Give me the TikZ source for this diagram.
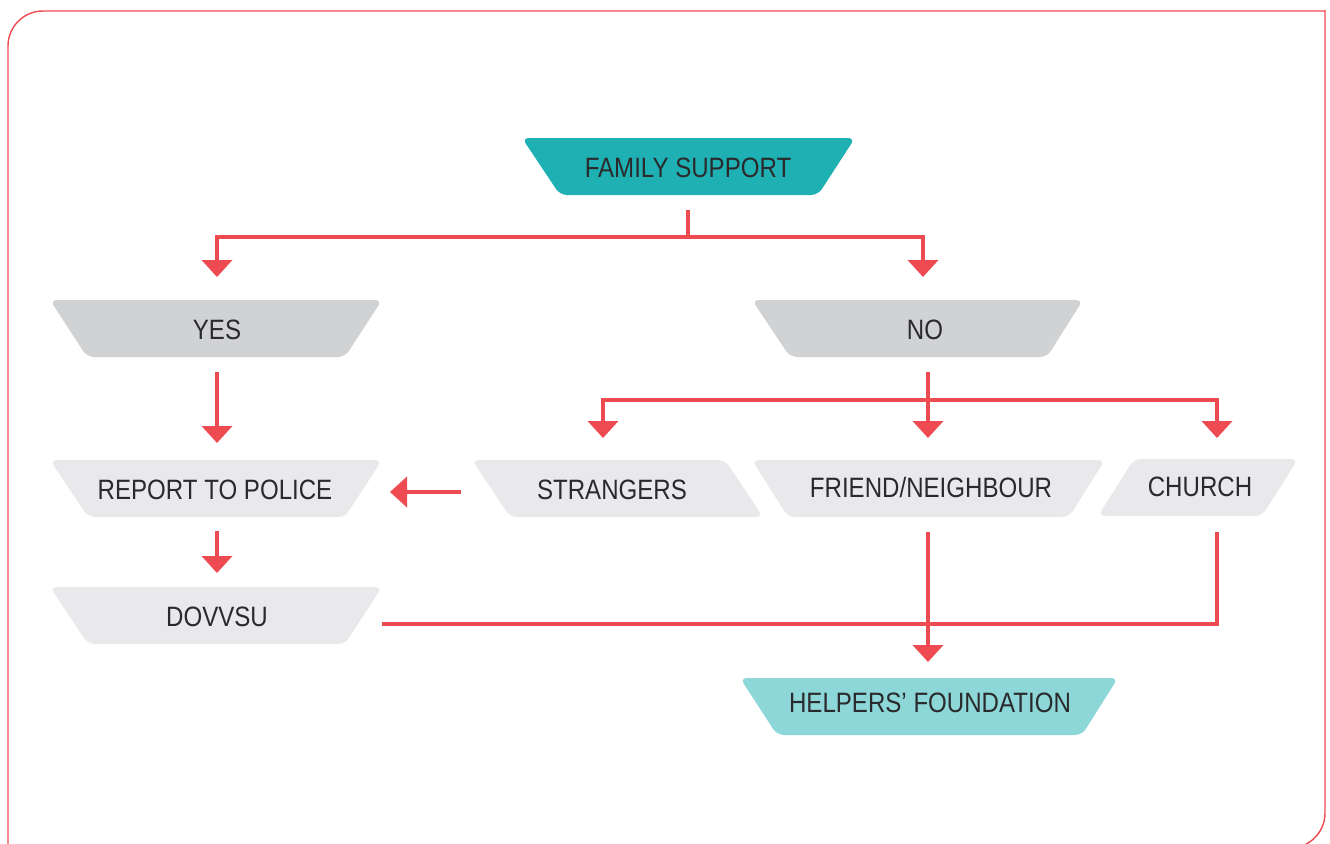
\documentclass[tikz,border=0pt]{standalone}
\usepackage{fontspec}
\setmainfont{Liberation Sans}[FakeStretch=0.86]
\usetikzlibrary{arrows.meta}
\definecolor{teal1}{HTML}{1EB0B3}
\definecolor{teal2}{HTML}{8DD7D9}
\definecolor{gray1}{HTML}{D1D2D4}
\definecolor{gray2}{HTML}{E9E9EB}
\definecolor{redl}{HTML}{EE4A52}
\definecolor{txt}{HTML}{2A2A2C}
\newcommand\shp[6]{\fill[#1, rounded corners=7pt] (#3,#2) -- (#4,#2) -- (#6,#2+57) -- (#5,#2+57) -- cycle;}
\begin{document}
\begin{tikzpicture}[x=1pt,y=-1pt,
  lbl/.style={inner sep=0pt, text=txt, font=\fontsize{28}{30}\selectfont},
  rl/.style={draw=redl, line width=4pt, line join=miter},
  ra/.style={rl, -{Triangle[width=30pt,length=17pt]}}]
\useasboundingbox (0,0) rectangle (1330,843);
% frame
\draw[redl, line width=1.4pt, rounded corners=35pt] (8,870) -- (8,11) -- (1325.5,11);
\draw[redl, line width=1.4pt, rounded corners=35pt] (1325,10.3) -- (1325,848) -- (1200,848);
% shapes
\shp{teal1}{138}{522}{855}{560}{818}
\shp{gray1}{300}{50}{382}{87}{345}
\shp{gray1}{300}{752}{1083}{790}{1047}
\shp{gray2}{460}{50}{382}{88}{345}
\shp{gray2}{587}{50}{382}{88}{345}
\shp{gray2}{460}{472}{725}{510}{763}
\shp{gray2}{460}{752}{1105}{788}{1069}
\shp{gray2}{459}{1134}{1298}{1098}{1262}
\shp{teal2}{678}{740}{1118}{777}{1082}
% labels
\node[lbl] (fs) at (688,168) {FAMILY SUPPORT};
\node[lbl] (yes) at (217,330) {YES};
\node[lbl] (no) at (925,330) {NO};
\node[lbl] (rep) at (215,490) {REPORT TO POLICE};
\node[lbl] (str) at (612,490) {STRANGERS};
\node[lbl] (fr) at (931,487) {FRIEND/NEIGHBOUR};
\node[lbl] (ch) at (1200,487) {CHURCH};
\node[lbl] (dov) at (217,617) {DOVVSU};
\node[lbl] (hf) at (930,703) {HELPERS’ FOUNDATION};
% connector points
\coordinate (fsout) at (688,210);
\coordinate (j1) at (688,237);
\coordinate (yesin) at (217,277);
\coordinate (noin) at (923,277);
\coordinate (yesout) at (217,372);
\coordinate (repin) at (217,443);
\coordinate (noout) at (928,372);
\coordinate (j2) at (928,400);
\coordinate (strin) at (603,438);
\coordinate (frin) at (928,438);
\coordinate (chin) at (1217,438);
\coordinate (strout) at (461,492);
\coordinate (repin2) at (390,492);
\coordinate (repout) at (217,531);
\coordinate (dovin) at (217,573);
\coordinate (dovout) at (382,624);
\coordinate (chout) at (1217,532);
\coordinate (frout) at (928,532);
\coordinate (hfin) at (928,662);
% connectors
\draw[rl] (fsout) -- (j1);
\draw[ra] (j1) -| (yesin);
\draw[ra] (j1) -| (noin);
\draw[ra] (yesout) -- (repin);
\draw[rl] (noout) -- (j2);
\draw[ra] (j2) -| (strin);
\draw[ra] (j2) -- (frin);
\draw[ra] (j2) -| (chin);
\draw[ra] (strout) -- (repin2);
\draw[ra] (repout) -- (dovin);
\draw[rl] (dovout) -| (chout);
\draw[ra] (frout) -- (hfin);
\end{tikzpicture}
\end{document}
